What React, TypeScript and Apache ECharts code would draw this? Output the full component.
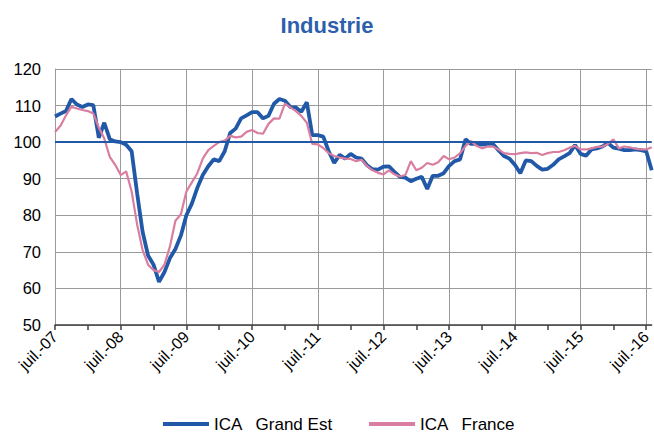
import React, { useEffect, useRef } from "react";
import * as echarts from "echarts";

const MONTHS = ["janv.", "févr.", "mars", "avr.", "mai", "juin", "juil.", "août", "sept.", "oct.", "nov.", "déc."];
const START_YEAR = 2007;
const START_MONTH = 6; // juillet
const N_POINTS = 110;

const categories: string[] = Array.from({ length: N_POINTS }, (_, i) => {
  const m = (START_MONTH + i) % 12;
  const y = START_YEAR + Math.floor((START_MONTH + i) / 12);
  return MONTHS[m] + "-" + String(y).slice(2);
});

const grandEst = [
  107, 107.8, 108.5, 111.8, 110.3, 109.6, 110.3, 110.1, 101.2, 105.3,
  100.8, 100.2, 100, 99.3, 97.5, 86, 75.5, 69, 66.5, 61.8,
  64.5, 68.3, 70.8, 74.5, 80, 83.2, 87.5, 91, 93.4, 95.3,
  94.8, 97.5, 102.5, 103.7, 106.5, 107.3, 108.2, 108.2, 106.5, 107.2,
  110.5, 111.8, 111.3, 109.6, 109.5, 108.3, 110.9, 101.9, 101.9, 101.5,
  97.5, 94.3, 96.5, 95.5, 96.8, 95.8, 95.5, 93.7, 92.6, 92.5,
  93.3, 93.4, 91.9, 90.5, 90.3, 89.3, 90, 90.5, 87.2, 90.8,
  90.8, 91.5, 93.5, 94.8, 95.3, 100.8, 99.5, 99.5, 99.3, 99.5,
  99.5, 97.8, 96.2, 95.5, 93.8, 91.5, 95, 94.8, 93.5, 92.5,
  92.7, 93.8, 95.3, 96.1, 97, 99.2, 96.8, 96.3, 98, 98.3,
  98.8, 99.8, 98.5, 98.2, 97.8, 97.8, 98, 97.8, 97.5, 92.3,
];

const france = [
  102.8, 104.5, 107.3, 109.7, 109.2, 108.8, 108.5, 107.8, 104, 101,
  96, 93.8, 91, 92, 86.5, 77.5, 70.5, 66.5, 65, 64.5,
  66.5, 71.5, 78.5, 80.3, 86.5, 89, 91.5, 95.5, 97.8, 99,
  100, 100.4, 101.7, 101.3, 101.5, 102.8, 103.3, 102.5, 102.3, 105,
  106.5, 106.4, 110.5, 109.5, 108.5, 107.2, 105.3, 99.5, 99.4, 98.4,
  97, 96.2, 95.8, 95.5, 95.4, 94.8, 95.2, 93.5, 92.3, 91.6,
  91.2, 92.3, 91.2, 90.6, 91, 94.8, 92.3, 93, 94.3, 93.8,
  94.5, 96.2, 95.3, 95.8, 97, 99, 100.3, 99, 98.3, 98.8,
  98.8, 98, 97, 96.8, 96.7, 97, 97.2, 97, 97.1, 96.5,
  97, 97.3, 97.3, 97.8, 98.5, 99, 98, 98, 98.3, 98.7,
  98.8, 99.5, 100.8, 98.3, 98.8, 98.6, 98.2, 98, 98, 98.6,
];

const REFERENCE = 100;
const SERIES_NAMES = ["ICA   Grand Est", "ICA   France"];

const FONT = "'Liberation Sans', Arial, sans-serif";
const BLUE = "#2159a8";
const PINK = "#d97ea0";
const GRID = "#9a9a9a";

export default function App() {
  const ref = useRef<HTMLDivElement>(null);

  useEffect(() => {
    document.body.style.margin = "0";
    if (!ref.current) return;
    const chart = echarts.init(ref.current, undefined, { renderer: "svg" });
    chart.setOption({
      animation: false,
      backgroundColor: "#ffffff",
      title: {
        text: "Industrie",
        left: "center",
        top: 9,
        textStyle: { fontFamily: FONT, fontSize: 22, fontWeight: "bold", color: "#2e5fad" },
      },
      legend: {
        top: 414,
        left: 163,
        padding: 0,
        icon: "rect",
        itemWidth: 46,
        itemHeight: 4,
        itemGap: 36,
        data: SERIES_NAMES,
        textStyle: { fontFamily: FONT, fontSize: 17, lineHeight: 20, color: "#000" },
      },
      grid: { left: 55, right: 2, top: 69, bottom: 110, containLabel: false },
      xAxis: {
        type: "category",
        data: categories,
        boundaryGap: false,
        axisLine: { show: true, lineStyle: { color: "#404040", width: 1.5 } },
        axisTick: {
          show: true,
          length: 5,
          interval: (idx: number) => idx % 6 === 0,
          lineStyle: { color: "#404040", width: 1.5 },
        },
        axisLabel: {
          interval: (idx: number) => idx % 12 === 0,
          rotate: 45,
          margin: 9,
          fontFamily: FONT,
          fontSize: 16,
          color: "#000",
        },
        splitLine: {
          show: true,
          interval: (idx: number) => idx % 12 === 0,
          lineStyle: { color: GRID, width: 1 },
        },
      },
      yAxis: {
        type: "value",
        min: 50,
        max: 120,
        interval: 10,
        axisLine: { show: true, lineStyle: { color: GRID, width: 1 } },
        axisTick: { show: false },
        axisLabel: { fontFamily: FONT, fontSize: 16.5, color: "#000", margin: 14 },
        splitLine: { show: true, lineStyle: { color: GRID, width: 1 } },
      },
      series: [
        {
          name: SERIES_NAMES[0],
          type: "line",
          data: grandEst,
          symbol: "none",
          lineStyle: { color: BLUE, width: 3.8 },
          itemStyle: { color: BLUE },
          z: 3,
          markLine: {
            silent: true,
            symbol: "none",
            label: { show: false },
            lineStyle: { color: BLUE, width: 2, type: "solid" },
            data: [{ yAxis: REFERENCE }],
          },
        },
        {
          name: SERIES_NAMES[1],
          type: "line",
          data: france,
          symbol: "none",
          lineStyle: { color: PINK, width: 2.2 },
          itemStyle: { color: PINK },
          z: 4,
        },
      ],
    });
    return () => chart.dispose();
  }, []);

  return <div ref={ref} style={{ width: 654, height: 435 }} />;
}
